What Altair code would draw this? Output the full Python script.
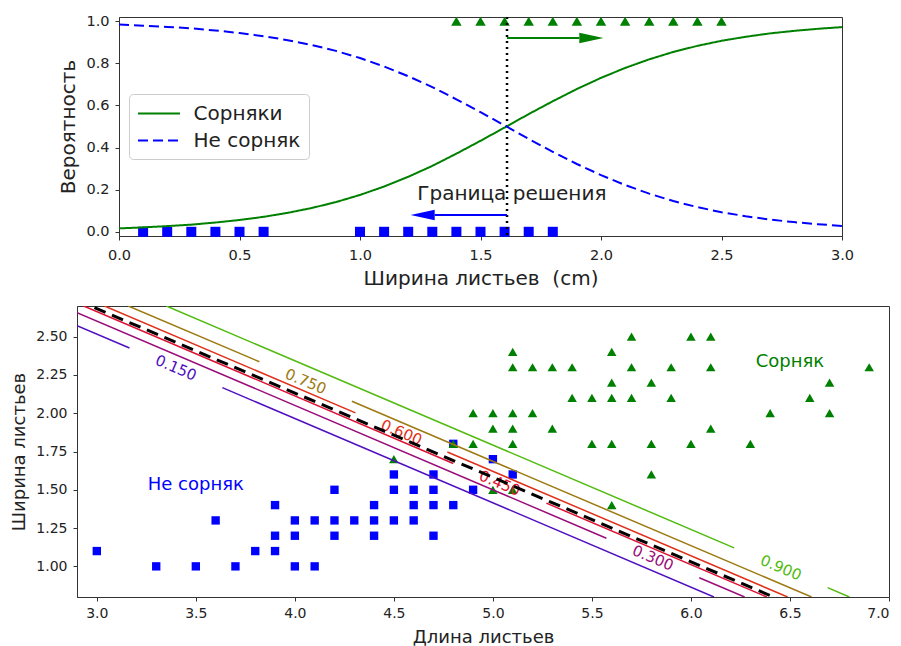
import altair as alt
import pandas as pd

FONT = "DejaVu Sans"
TXT = "#222222"
GREEN = "#008000"
BLUE = "#0000ff"

# ---------------- top panel data ----------------
petal_width = [0.0, 0.1, 0.2, 0.3, 0.4, 0.5, 0.6, 0.7, 0.8, 0.9, 1.0, 1.1, 1.2, 1.3, 1.4, 1.5,
               1.6, 1.7, 1.8, 1.9, 2.0, 2.1, 2.2, 2.3, 2.4, 2.5, 2.6, 2.7, 2.8, 2.9, 3.0]
proba_weed = [0.016, 0.021, 0.027, 0.034, 0.044, 0.056, 0.071, 0.090, 0.113, 0.141, 0.175,
              0.215, 0.261, 0.313, 0.371, 0.432, 0.495, 0.559, 0.620, 0.678, 0.731, 0.778,
              0.819, 0.854, 0.883, 0.907, 0.926, 0.942, 0.954, 0.964, 0.972]
proba_not_weed = [0.984, 0.979, 0.973, 0.966, 0.956, 0.944, 0.929, 0.910, 0.887, 0.859, 0.825,
                  0.785, 0.739, 0.687, 0.629, 0.568, 0.505, 0.441, 0.380, 0.322, 0.269, 0.222,
                  0.181, 0.146, 0.117, 0.093, 0.074, 0.058, 0.046, 0.036, 0.028]
series_names = ["Сорняки", "Не сорняк"]
square_widths = [0.1, 0.2, 0.3, 0.4, 0.5, 0.6, 1.0, 1.1, 1.2, 1.3, 1.4, 1.5, 1.6, 1.7, 1.8]
triangle_widths = [1.4, 1.5, 1.6, 1.7, 1.8, 1.9, 2.0, 2.1, 2.2, 2.3, 2.4, 2.5]
decision_boundary = 1.61
boundary_text = "Граница решения"
boundary_text_pos = (1.63, 0.15)
# arrows: (shaft start, shaft end, head tip, y, half head width)
arrow_left = (1.61, 1.31, 1.21, 0.08, 0.025)
arrow_right = (1.61, 1.91, 2.01, 0.92, 0.025)

# ---------------- bottom panel data ----------------
versicolor_len = [3.0, 3.3, 3.5, 3.6, 3.7, 3.8, 3.9, 3.9, 3.9, 4.0, 4.0, 4.0, 4.1, 4.1, 4.2, 4.2,
                  4.2, 4.3, 4.4, 4.4, 4.4, 4.5, 4.5, 4.5, 4.6, 4.6, 4.6, 4.7, 4.7, 4.7, 4.7, 4.8,
                  4.8, 4.9, 5.0, 5.1]
versicolor_wid = [1.1, 1.0, 1.0, 1.3, 1.0, 1.1, 1.4, 1.2, 1.1, 1.3, 1.2, 1.0, 1.3, 1.0, 1.5, 1.3,
                  1.2, 1.3, 1.4, 1.3, 1.2, 1.6, 1.5, 1.3, 1.5, 1.4, 1.3, 1.6, 1.5, 1.4, 1.2, 1.8,
                  1.4, 1.5, 1.7, 1.6]
virginica_len = [5.7, 6.0, 6.1, 5.1, 5.6, 5.1, 5.2, 5.3, 5.4, 5.7, 5.9, 6.1, 6.9, 5.6, 5.8, 6.7,
                 5.4, 5.5, 5.6, 5.7, 5.9, 6.6, 4.9, 5.0, 5.1, 5.2, 6.4, 6.7, 5.0, 5.1, 5.3, 6.1,
                 4.8, 4.9, 5.1, 5.5, 5.6, 5.8, 6.0, 6.3, 5.8, 4.5, 5.0, 5.1, 5.6]
virginica_wid = [2.5, 2.5, 2.5, 2.4, 2.4, 2.3, 2.3, 2.3, 2.3, 2.3, 2.3, 2.3, 2.3, 2.2, 2.2, 2.2,
                 2.1, 2.1, 2.1, 2.1, 2.1, 2.1, 2.0, 2.0, 2.0, 2.0, 2.0, 2.0, 1.9, 1.9, 1.9, 1.9,
                 1.8, 1.8, 1.8, 1.8, 1.8, 1.8, 1.8, 1.8, 1.6, 1.7, 1.5, 1.5, 1.4]
contour_levels = ["0.150", "0.300", "0.450", "0.600", "0.750", "0.900"]
contour_colors = ["#4f0fc0", "#9a0c7a", "#de0f30", "#e0301a", "#9c7a10", "#52bb10"]
# (level, x start, y start, x end, y end) of each drawn piece of a contour line
contour_segments = [
    ("0.150", 2.900, 2.572, 3.165, 2.426), ("0.150", 3.634, 2.167, 6.116, 0.800),
    ("0.300", 2.900, 2.657, 5.573, 1.184), ("0.300", 6.042, 0.926, 6.271, 0.800),
    ("0.450", 2.934, 2.700, 4.800, 1.672), ("0.450", 5.270, 1.413, 6.383, 0.800),
    ("0.600", 3.039, 2.700, 4.306, 2.002), ("0.600", 4.770, 1.747, 6.488, 0.800),
    ("0.750", 3.159, 2.700, 3.821, 2.336), ("0.750", 4.288, 2.078, 6.609, 0.800),
    ("0.900", 3.351, 2.700, 6.218, 1.121), ("0.900", 6.690, 0.861, 6.800, 0.800),
]
contour_label_x = [3.400, 5.808, 5.035, 4.538, 4.055, 6.454]
contour_label_y = [2.296, 1.055, 1.543, 1.874, 2.207, 0.991]
boundary_line_x = [2.9, 7.0]
boundary_line_y = [2.738, 0.479]
class_texts = ["Не сорняк", "Сорняк"]
class_text_x = [3.5, 6.5]
class_text_y = [1.5, 2.3]
class_text_colors = [BLUE, GREEN]

# ---------------- top panel ----------------
xs_top = alt.Scale(domain=[0, 3], nice=False)
ys_top = alt.Scale(domain=[-0.02, 1.02], nice=False)
x_top_axis = alt.Axis(values=[0, 0.5, 1, 1.5, 2, 2.5, 3], format=".1f",
                      title="Ширина листьев \u00a0(cm)", labelFlush=False,
                      labelFontSize=14.5, titleFontSize=20, labelPadding=8, titlePadding=7)
y_top_axis = alt.Axis(values=[0, 0.2, 0.4, 0.6, 0.8, 1.0], format=".1f", title="Вероятность",
                      labelFontSize=14.5, titleFontSize=20)

curves = pd.DataFrame({
    "w": petal_width * 2,
    "p": proba_weed + proba_not_weed,
    "series": [series_names[0]] * len(petal_width) + [series_names[1]] * len(petal_width),
})
sq_df = pd.DataFrame({"w": square_widths, "p": [0.0] * len(square_widths)})
tri_df = pd.DataFrame({"w": triangle_widths, "p": [1.0] * len(triangle_widths)})

sq_top = alt.Chart(sq_df).mark_point(shape="square", filled=True, size=100, color=BLUE, opacity=1).encode(
    x=alt.X("w:Q", scale=xs_top, axis=x_top_axis), y=alt.Y("p:Q", scale=ys_top, axis=y_top_axis))
tri_top = alt.Chart(tri_df).mark_point(shape="triangle-up", filled=True, size=110, color=GREEN, opacity=1).encode(
    x="w:Q", y="p:Q")
dotted = alt.Chart(pd.DataFrame({"w": [decision_boundary]})).mark_rule(
    color="black", strokeWidth=2.5, strokeDash=[2, 4]).encode(x="w:Q")
lines_top = alt.Chart(curves).mark_line(strokeWidth=2).encode(
    x="w:Q", y="p:Q",
    color=alt.Color("series:N", scale=alt.Scale(domain=series_names, range=[GREEN, BLUE]),
                    legend=alt.Legend(title=None, orient="none", legendX=52, legendY=77,
                                      symbolType="M-2,0L2,0", symbolSize=441, symbolStrokeWidth=2,
                                      symbolOffset=10.5, labelOffset=23,
                                      labelFont=FONT, labelFontSize=20, labelColor=TXT,
                                      fillColor="white", strokeColor="#cccccc", cornerRadius=4,
                                      padding=8, rowPadding=5)),
    strokeDash=alt.StrokeDash("series:N", scale=alt.Scale(domain=series_names, range=[[1, 0], [10, 5]]),
                              legend=None),
)
text_top = alt.Chart(pd.DataFrame({"w": [boundary_text_pos[0]], "p": [boundary_text_pos[1]],
                                   "t": [boundary_text]})).mark_text(
    font=FONT, fontSize=20, color=TXT, align="center", baseline="alphabetic").encode(
    x="w:Q", y="p:Q", text="t:N")


def arrow(a, color):
    start, end, tip, yv, hw = a
    shaft = alt.Chart(pd.DataFrame({"x1": [start], "x2": [end], "y": [yv]})).mark_rule(
        color=color, strokeWidth=2).encode(x="x1:Q", x2="x2:Q", y="y:Q")
    head = alt.Chart(pd.DataFrame({"x": [end, tip], "y1": [yv - hw, yv], "y2": [yv + hw, yv]})).mark_area(
        color=color, opacity=1).encode(x="x:Q", y="y1:Q", y2="y2:Q")
    return shaft + head


top = alt.layer(sq_top, tri_top, dotted, lines_top, text_top,
                arrow(arrow_left, BLUE), arrow(arrow_right, GREEN)).properties(width=723, height=219)

spacer = alt.Chart(pd.DataFrame({"s": [0]})).mark_point(opacity=0).properties(
    width=42, height=10, view=alt.ViewBackground(strokeOpacity=0))
top_row = alt.hconcat(spacer, top, spacing=0, bounds="flush")

# ---------------- bottom panel ----------------
xs_bot = alt.Scale(domain=[2.9, 7.0], nice=False)
ys_bot = alt.Scale(domain=[0.8, 2.7], nice=False)
x_bot_axis = alt.Axis(values=[3.0, 3.5, 4.0, 4.5, 5.0, 5.5, 6.0, 6.5, 7.0], format=".1f",
                      title="Длина листьев", labelFlush=True)
y_bot_axis = alt.Axis(values=[1.0, 1.25, 1.5, 1.75, 2.0, 2.25, 2.5], format=".2f", title="Ширина листьев")

vers_df = pd.DataFrame({"l": versicolor_len, "w": versicolor_wid})
virg_df = pd.DataFrame({"l": virginica_len, "w": virginica_wid})
seg_rows = []
for i, (lev, x1, y1, x2, y2) in enumerate(contour_segments):
    seg_rows.append({"level": lev, "seg": i, "o": 0, "l": x1, "w": y1})
    seg_rows.append({"level": lev, "seg": i, "o": 1, "l": x2, "w": y2})
seg_df = pd.DataFrame(seg_rows)
lab_df = pd.DataFrame({"level": contour_levels, "l": contour_label_x, "w": contour_label_y})
bnd_df = pd.DataFrame({"l": boundary_line_x, "w": boundary_line_y})
cls_df = pd.DataFrame({"t": class_texts, "l": class_text_x, "w": class_text_y, "c": class_text_colors})

level_scale = alt.Scale(domain=contour_levels, range=contour_colors)

sq_bot = alt.Chart(vers_df).mark_point(shape="square", filled=True, size=70, color=BLUE, opacity=1).encode(
    x=alt.X("l:Q", scale=xs_bot, axis=x_bot_axis), y=alt.Y("w:Q", scale=ys_bot, axis=y_bot_axis))
tri_bot = alt.Chart(virg_df).mark_point(shape="triangle-up", filled=True, size=90, color=GREEN, opacity=1).encode(
    x="l:Q", y="w:Q")
contours = alt.Chart(seg_df).mark_line(strokeWidth=1.5, clip=True).encode(
    x="l:Q", y="w:Q", detail="seg:N", order="o:Q",
    color=alt.Color("level:N", scale=level_scale, legend=None))
clabels = alt.Chart(lab_df).mark_text(font=FONT, fontSize=15, angle=23, align="center",
                                      baseline="middle").encode(
    x="l:Q", y="w:Q", text="level:N", color=alt.Color("level:N", scale=level_scale, legend=None))
bnd = alt.Chart(bnd_df).mark_line(color="black", strokeWidth=3, strokeDash=[12, 7], clip=True).encode(
    x="l:Q", y="w:Q")
cls = alt.Chart(cls_df).mark_text(font=FONT, fontSize=18, align="center", baseline="alphabetic").encode(
    x="l:Q", y="w:Q", text="t:N", color=alt.Color("c:N", scale=None))

bottom = alt.layer(sq_bot, tri_bot, contours, clabels, bnd, cls).properties(width=812, height=291)

chart = alt.vconcat(top_row, bottom, spacing=16).resolve_scale(
    color="independent", strokeDash="independent"
).properties(
    padding={"left": 2, "top": 4, "right": 0, "bottom": 0}
).configure_view(stroke="#333333", strokeWidth=1).configure_axis(
    labelFont=FONT, labelFontSize=14, labelColor=TXT, titleFont=FONT, titleFontSize=18,
    titleColor=TXT, titleFontWeight="normal", tickColor="#333333", domainColor="#333333",
    tickSize=4, labelPadding=6, titlePadding=7, grid=False
).configure_axisX(labelPadding=5, titlePadding=8)

chart.save("out.html", embed_options={"renderer": "svg", "actions": False})
